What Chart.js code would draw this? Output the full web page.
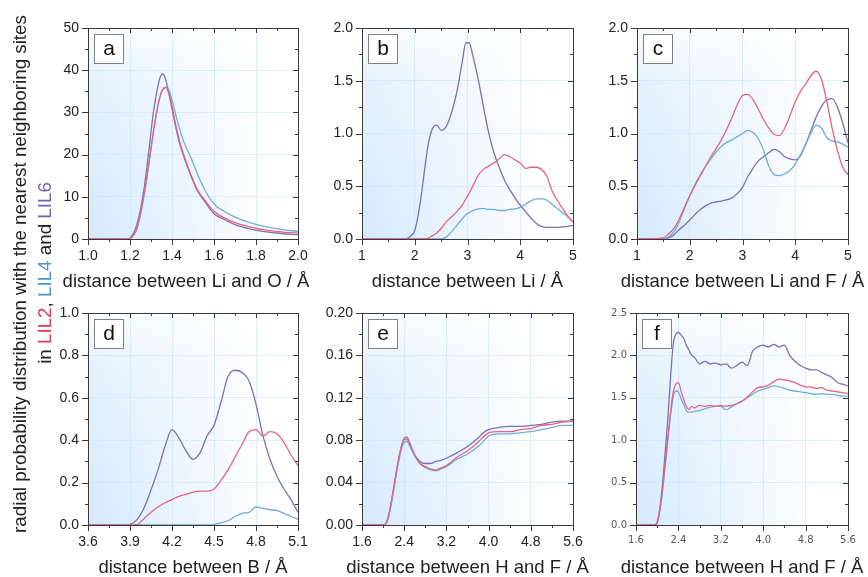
<!DOCTYPE html>
<html>
<head>
<meta charset="utf-8">
<script src="https://cdn.jsdelivr.net/npm/chart.js@4.4.1/dist/chart.umd.min.js"></script>
<style>
  body { margin: 0; background: #fff; width: 868px; height: 577px; overflow: hidden; position: relative; }
  canvas { position: absolute; left: 0; top: 0; }
</style>
</head>
<body>
<canvas id="pa" width="868" height="577"></canvas>
<canvas id="pb" width="868" height="577"></canvas>
<canvas id="pc" width="868" height="577"></canvas>
<canvas id="pd" width="868" height="577"></canvas>
<canvas id="pe" width="868" height="577"></canvas>
<canvas id="pf" width="868" height="577"></canvas>
<script>
// ---- data ----
// (a) Li - O
const aX    = [1.0, 1.15, 1.19, 1.21, 1.23, 1.25, 1.27, 1.29, 1.31, 1.33, 1.345, 1.355, 1.37, 1.385, 1.40, 1.42, 1.44, 1.46, 1.49, 1.52, 1.55, 1.60, 1.65, 1.70, 1.77, 1.85, 1.92, 2.0];
const aLIL2 = [0, 0, 0, 0.5, 2.2, 6, 11.5, 18, 25, 31, 34.2, 35.4, 35.9, 34.5, 31.5, 26.5, 22.5, 19.3, 15.2, 11.8, 9.6, 6.6, 5.0, 3.9, 2.9, 2.1, 1.7, 1.4];
const aLIL4 = [0, 0, 0, 0.5, 2.0, 5.8, 11.2, 17.8, 24.8, 30.8, 34, 35.3, 36, 35.3, 33, 29, 25.5, 22.5, 19.3, 15.5, 12.2, 8.3, 6.5, 5.2, 3.9, 2.9, 2.3, 1.8];
const aLIL6 = [0, 0, 0, 0.8, 3, 7, 13, 21, 29.5, 35.5, 38.5, 39.1, 37.8, 34.5, 30.8, 26, 22, 19, 15, 11.5, 9.3, 6.0, 4.6, 3.4, 2.4, 1.7, 1.3, 1.0];

// (b) Li - Li
const bX    = [1, 1.8, 1.9, 2.0, 2.1, 2.17, 2.25, 2.33, 2.42, 2.5, 2.6, 2.7, 2.8, 2.9, 2.97, 3.03, 3.1, 3.2, 3.3, 3.4, 3.5, 3.6, 3.7, 3.8, 3.9, 4.0, 4.1, 4.2, 4.3, 4.4, 4.5, 4.6, 4.7, 4.8, 4.9, 5.0];
const bLIL2 = [0, 0, 0, 0, 0, 0, 0.005, 0.03, 0.06, 0.1, 0.165, 0.21, 0.26, 0.32, 0.38, 0.43, 0.5, 0.6, 0.66, 0.69, 0.72, 0.76, 0.8, 0.78, 0.75, 0.72, 0.67, 0.68, 0.68, 0.66, 0.6, 0.46, 0.37, 0.29, 0.22, 0.16];
const bLIL4 = [0, 0, 0, 0, 0, 0, 0, 0, 0, 0, 0.02, 0.07, 0.13, 0.19, 0.23, 0.25, 0.27, 0.285, 0.29, 0.28, 0.28, 0.27, 0.27, 0.28, 0.285, 0.3, 0.33, 0.36, 0.38, 0.38, 0.37, 0.33, 0.29, 0.25, 0.21, 0.16];
const bLIL6 = [0, 0, 0.02, 0.08, 0.33, 0.59, 0.88, 1.04, 1.08, 1.03, 1.07, 1.2, 1.4, 1.68, 1.86, 1.86, 1.74, 1.52, 1.26, 1.01, 0.82, 0.68, 0.56, 0.47, 0.39, 0.32, 0.26, 0.2, 0.15, 0.12, 0.11, 0.11, 0.11, 0.115, 0.12, 0.13];

// (c) Li - F
const cX    = [1, 1.5, 1.6, 1.7, 1.8, 1.9, 2.0, 2.2, 2.4, 2.6, 2.8, 2.9, 3.0, 3.1, 3.2, 3.3, 3.4, 3.5, 3.6, 3.7, 3.8, 3.9, 4.0, 4.1, 4.2, 4.3, 4.4, 4.5, 4.6, 4.7, 4.8, 4.9, 5.0];
const cLIL2 = [0, 0.01, 0.05, 0.1, 0.19, 0.3, 0.41, 0.6, 0.78, 0.94, 1.15, 1.27, 1.36, 1.37, 1.32, 1.23, 1.13, 1.05, 0.99, 0.98, 1.05, 1.17, 1.3, 1.4, 1.47, 1.55, 1.59, 1.51, 1.3, 1.05, 0.84, 0.68, 0.61];
const cLIL4 = [0, 0, 0.02, 0.07, 0.16, 0.29, 0.41, 0.61, 0.76, 0.88, 0.94, 0.97, 1.0, 1.03, 1.01, 0.95, 0.84, 0.69, 0.61, 0.6, 0.62, 0.65, 0.71, 0.8, 0.9, 1.01, 1.08, 1.05, 0.96, 0.93, 0.92, 0.9, 0.87];
const cLIL6 = [0, 0, 0.01, 0.04, 0.09, 0.13, 0.18, 0.28, 0.34, 0.36, 0.39, 0.43, 0.49, 0.59, 0.67, 0.74, 0.78, 0.82, 0.85, 0.83, 0.78, 0.76, 0.75, 0.79, 0.9, 1.03, 1.16, 1.26, 1.32, 1.33, 1.25, 1.1, 0.91];

// (d) B - B
const dX    = [3.6, 3.85, 3.9, 3.95, 4.0, 4.05, 4.1, 4.15, 4.2, 4.25, 4.3, 4.35, 4.4, 4.45, 4.5, 4.55, 4.6, 4.65, 4.7, 4.75, 4.8, 4.85, 4.9, 4.95, 5.0, 5.05, 5.1];
const dLIL2 = [0, 0, 0, 0.002, 0.03, 0.06, 0.085, 0.105, 0.12, 0.135, 0.145, 0.155, 0.16, 0.16, 0.17, 0.21, 0.26, 0.32, 0.38, 0.44, 0.45, 0.42, 0.44, 0.43, 0.39, 0.33, 0.28];
const dLIL4 = [0, 0, 0, 0, 0, 0, 0, 0, 0, 0, 0, 0, 0, 0, 0.002, 0.01, 0.02, 0.04, 0.055, 0.06, 0.085, 0.078, 0.072, 0.068, 0.055, 0.04, 0.027];
const dLIL6 = [0, 0, 0.003, 0.025, 0.08, 0.165, 0.26, 0.37, 0.45, 0.41, 0.35, 0.31, 0.34, 0.42, 0.47, 0.58, 0.70, 0.73, 0.72, 0.68, 0.57, 0.42, 0.31, 0.23, 0.17, 0.12, 0.06];

// (e) H - F
const eX    = [1.6, 2.0, 2.05, 2.1, 2.15, 2.2, 2.25, 2.3, 2.35, 2.4, 2.45, 2.5, 2.6, 2.7, 2.8, 2.9, 3.0, 3.1, 3.2, 3.4, 3.6, 3.8, 3.9, 4.0, 4.2, 4.4, 4.6, 4.8, 5.0, 5.2, 5.4, 5.6];
const eLIL2 = [0, 0, 0.001, 0.008, 0.02, 0.035, 0.05, 0.064, 0.075, 0.082, 0.083, 0.078, 0.066, 0.058, 0.055, 0.053, 0.052, 0.054, 0.056, 0.064, 0.07, 0.078, 0.083, 0.087, 0.088, 0.088, 0.09, 0.091, 0.094, 0.095, 0.097, 0.098];
const eLIL4 = [0, 0, 0.001, 0.007, 0.019, 0.033, 0.048, 0.061, 0.072, 0.078, 0.079, 0.075, 0.065, 0.058, 0.054, 0.052, 0.051, 0.053, 0.055, 0.062, 0.067, 0.074, 0.079, 0.084, 0.086, 0.086, 0.087, 0.088, 0.09, 0.092, 0.094, 0.094];
const eLIL6 = [0, 0, 0.001, 0.008, 0.02, 0.034, 0.049, 0.063, 0.074, 0.081, 0.081, 0.077, 0.066, 0.06, 0.058, 0.058, 0.06, 0.061, 0.063, 0.068, 0.074, 0.082, 0.087, 0.09, 0.092, 0.093, 0.093, 0.094, 0.095, 0.097, 0.098, 0.098];

// (f) H - F
const fX    = [1.6, 1.95, 2.0, 2.05, 2.1, 2.15, 2.2, 2.25, 2.3, 2.35, 2.4, 2.45, 2.5, 2.55, 2.6, 2.65, 2.7, 2.8, 2.9, 3.0, 3.1, 3.2, 3.3, 3.4, 3.5, 3.6, 3.7, 3.8, 3.9, 4.0, 4.1, 4.2, 4.3, 4.4, 4.5, 4.6, 4.7, 4.8, 4.9, 5.0, 5.1, 5.2, 5.3, 5.4, 5.5, 5.6];
const fLIL2 = [0, 0, 0.03, 0.18, 0.42, 0.72, 1.03, 1.32, 1.56, 1.66, 1.68, 1.58, 1.48, 1.4, 1.36, 1.4, 1.38, 1.41, 1.4, 1.41, 1.4, 1.41, 1.4, 1.41, 1.43, 1.46, 1.51, 1.57, 1.62, 1.63, 1.65, 1.69, 1.72, 1.71, 1.7, 1.68, 1.65, 1.63, 1.63, 1.61, 1.62, 1.59, 1.58, 1.57, 1.56, 1.55];
const fLIL4 = [0, 0, 0.03, 0.17, 0.4, 0.7, 1.0, 1.28, 1.5, 1.58, 1.57, 1.49, 1.42, 1.35, 1.33, 1.33, 1.34, 1.35, 1.37, 1.39, 1.4, 1.4, 1.36, 1.39, 1.43, 1.46, 1.5, 1.54, 1.58, 1.6, 1.62, 1.64, 1.63, 1.61, 1.59, 1.58, 1.57, 1.56, 1.55, 1.54, 1.55, 1.54, 1.54, 1.53, 1.52, 1.52];
const fLIL6 = [0, 0, 0.03, 0.2, 0.48, 0.85, 1.25, 1.72, 2.12, 2.25, 2.27, 2.24, 2.2, 2.12, 2.06, 2.0, 1.98, 1.9, 1.93, 1.9, 1.91, 1.89, 1.9, 1.85, 1.88, 1.92, 1.88, 2.05, 2.1, 2.12, 2.1, 2.13, 2.1, 2.12, 2.0, 1.93, 1.88, 1.85, 1.83, 1.83, 1.8, 1.77, 1.74, 1.68, 1.66, 1.64];

const xTitles = ['distance between Li and O / Å', 'distance between Li / Å', 'distance between Li and F / Å',
                 'distance between B / Å', 'distance between H and F / Å', 'distance between H and F / Å'];
const letters = ['a', 'b', 'c', 'd', 'e', 'f'];

const RED = '#e2647d', BLUE = '#72aadb', PURPLE = '#7c70b4';
const FONT = "'Liberation Sans', Arial, sans-serif";

// background, ticks on all four sides, frame, letter box and x title
const framePlugin = {
  id: 'frame',
  beforeDraw(chart) {
    const { ctx, chartArea: a } = chart;
    ctx.save();
    const g = ctx.createLinearGradient(a.left, 0, a.right, 0);
    g.addColorStop(0, 'rgb(213,234,251)');
    g.addColorStop(0.5, 'rgb(236,245,254)');
    g.addColorStop(0.85, '#ffffff');
    ctx.fillStyle = g;
    ctx.fillRect(a.left, a.top, a.width, a.height);
    const v = ctx.createLinearGradient(0, a.top, 0, a.bottom);
    v.addColorStop(0, 'rgba(255,255,255,0.85)');
    v.addColorStop(0.25, 'rgba(255,255,255,0.35)');
    v.addColorStop(1, 'rgba(255,255,255,0)');
    ctx.fillStyle = v;
    ctx.fillRect(a.left, a.top, a.width, a.height);
    ctx.restore();
  },
  afterDraw(chart, args, o) {
    const { ctx, chartArea: a, scales } = chart;
    const xs = scales.x, ys = scales.y;
    ctx.save();
    ctx.strokeStyle = '#3a3a3a';
    ctx.lineWidth = 1;
    ctx.beginPath();
    let n = Math.round((o.xmax - o.xmin) / o.xstep * 2);
    for (let i = 0; i <= n; i++) {
      const px = Math.round(xs.getPixelForValue(o.xmin + i * o.xstep / 2)) + 0.5;
      const out = i % 2 === 0 ? 6 : 3, inn = i % 2 === 0 ? 5 : 3;
      ctx.moveTo(px, a.bottom); ctx.lineTo(px, a.bottom + out);
      ctx.moveTo(px, a.top); ctx.lineTo(px, a.top + inn);
    }
    n = Math.round((o.ymax - o.ymin) / o.ystep * 2);
    for (let i = 0; i <= n; i++) {
      const py = Math.round(ys.getPixelForValue(o.ymin + i * o.ystep / 2)) + 0.5;
      const out = i % 2 === 0 ? 6 : 3, inn = i % 2 === 0 ? 5 : 3;
      ctx.moveTo(a.left, py); ctx.lineTo(a.left - out, py);
      ctx.moveTo(a.right, py); ctx.lineTo(a.right - inn, py);
    }
    ctx.stroke();
    ctx.strokeRect(a.left + 0.5, a.top + 0.5, a.width, a.height);
    // letter box
    ctx.fillStyle = '#fff';
    ctx.strokeStyle = '#808080';
    ctx.fillRect(a.left + 6.5, a.top + 6.5, 29, 29);
    ctx.strokeRect(a.left + 6.5, a.top + 6.5, 29, 29);
    ctx.fillStyle = '#111';
    ctx.font = '21px ' + FONT;
    ctx.textAlign = 'center';
    ctx.textBaseline = 'middle';
    ctx.fillText(o.letter, a.left + 21, a.top + 21);
    // x title (not squeezed to the plot width)
    ctx.fillStyle = '#222';
    ctx.font = '18.5px ' + FONT;
    ctx.fillText(o.title, (a.left + a.right) / 2 + o.titleShift, a.bottom + 43);
    ctx.restore();
  }
};

// shared y title, drawn once
const yTitlePlugin = {
  id: 'ytitle',
  afterDraw(chart) {
    const ctx = chart.ctx;
    ctx.save();
    ctx.font = '18.8px ' + FONT;
    ctx.textBaseline = 'alphabetic';
    ctx.translate(26, 274);
    ctx.rotate(-Math.PI / 2);
    ctx.fillStyle = '#222';
    ctx.textAlign = 'center';
    ctx.fillText('radial probability distribution with the nearest neighboring sites', 0, 0);
    ctx.restore();

    const parts = [['in ', '#222'], ['LIL2', '#e33a58'], [', ', '#222'], ['LIL4', '#4f94d0'], [' and ', '#222'], ['LIL6', '#7760b0']];
    ctx.save();
    ctx.font = '18.8px ' + FONT;
    ctx.translate(51, 273);
    ctx.rotate(-Math.PI / 2);
    const total = parts.reduce((s, p) => s + ctx.measureText(p[0]).width, 0);
    let x = -total / 2;
    ctx.textAlign = 'left';
    parts.forEach(p => {
      ctx.fillStyle = p[1];
      ctx.fillText(p[0], x, 0);
      x += ctx.measureText(p[0]).width;
    });
    ctx.restore();
  }
};

function series(xv, yv, color) {
  return {
    data: xv.map((x, i) => ({ x: x, y: yv[i] })),
    borderColor: color,
    borderWidth: 1.3,
    pointRadius: 0,
    fill: false,
    cubicInterpolationMode: 'monotone'
  };
}

function panel(id, box, xv, l2, l4, l6, ax, extra) {
  const small = !!ax.small;
  const tickFont = small ? { family: "'DejaVu Sans', sans-serif", size: 10 } : { family: FONT, size: 14 };
  const tickColor = small ? '#555' : '#222';
  const xH = 53, yW = 50;
  return new Chart(document.getElementById(id), {
    type: 'line',
    data: { datasets: [series(xv, l2, RED), series(xv, l4, BLUE), series(xv, l6, PURPLE)] },
    options: {
      responsive: false,
      animation: false,
      events: [],
      devicePixelRatio: 1,
      layout: { padding: { left: box.L - yW, top: box.T, right: 868 - box.R, bottom: 577 - box.B - xH } },
      plugins: {
        legend: { display: false },
        tooltip: { enabled: false },
        frame: { letter: ax.letter, title: ax.title, titleShift: box.shift || 0,
                 xmin: ax.xmin, xmax: ax.xmax, xstep: ax.xstep, ymin: ax.ymin, ymax: ax.ymax, ystep: ax.ystep }
      },
      scales: {
        x: {
          type: 'linear', min: ax.xmin, max: ax.xmax,
          afterFit: s => { s.height = xH; },
          grid: { color: 'rgba(196,224,247,0.55)', drawTicks: false },
          border: { display: false },
          ticks: { stepSize: ax.xstep, padding: 9, font: tickFont, color: tickColor,
                   maxRotation: 0, autoSkip: false, callback: v => v.toFixed(ax.xdec) }
        },
        y: {
          type: 'linear', min: ax.ymin, max: ax.ymax,
          afterFit: s => { s.width = yW; },
          grid: { color: 'rgba(196,224,247,0.55)', drawTicks: false },
          border: { display: false },
          ticks: { stepSize: ax.ystep, padding: 9, font: tickFont, color: tickColor,
                   autoSkip: false, callback: v => v.toFixed(ax.ydec) }
        }
      }
    },
    plugins: extra ? [framePlugin, extra] : [framePlugin]
  });
}

panel('pa', { L: 88, T: 28, R: 298, B: 239, shift: -7 }, aX, aLIL2, aLIL4, aLIL6,
  { letter: letters[0], title: xTitles[0], xmin: 1.0, xmax: 2.0, xstep: 0.2, xdec: 1, ymin: 0, ymax: 50, ystep: 10, ydec: 0 }, yTitlePlugin);
panel('pb', { L: 362, T: 28, R: 573, B: 239 }, bX, bLIL2, bLIL4, bLIL6,
  { letter: letters[1], title: xTitles[1], xmin: 1, xmax: 5, xstep: 1, xdec: 0, ymin: 0, ymax: 2, ystep: 0.5, ydec: 1 });
panel('pc', { L: 637, T: 28, R: 848, B: 239 }, cX, cLIL2, cLIL4, cLIL6,
  { letter: letters[2], title: xTitles[2], xmin: 1, xmax: 5, xstep: 1, xdec: 0, ymin: 0, ymax: 2, ystep: 0.5, ydec: 1 });
panel('pd', { L: 88, T: 313, R: 298, B: 525 }, dX, dLIL2, dLIL4, dLIL6,
  { letter: letters[3], title: xTitles[3], xmin: 3.6, xmax: 5.1, xstep: 0.3, xdec: 1, ymin: 0, ymax: 1, ystep: 0.2, ydec: 1 });
panel('pe', { L: 362, T: 313, R: 573, B: 525 }, eX, eLIL2, eLIL4, eLIL6,
  { letter: letters[4], title: xTitles[4], xmin: 1.6, xmax: 5.6, xstep: 0.8, xdec: 1, ymin: 0, ymax: 0.2, ystep: 0.04, ydec: 2 });
panel('pf', { L: 636, T: 313, R: 848, B: 525 }, fX, fLIL2, fLIL4, fLIL6,
  { letter: letters[5], title: xTitles[5], xmin: 1.6, xmax: 5.6, xstep: 0.8, xdec: 1, ymin: 0, ymax: 2.5, ystep: 0.5, ydec: 1, small: true });
</script>
</body>
</html>
